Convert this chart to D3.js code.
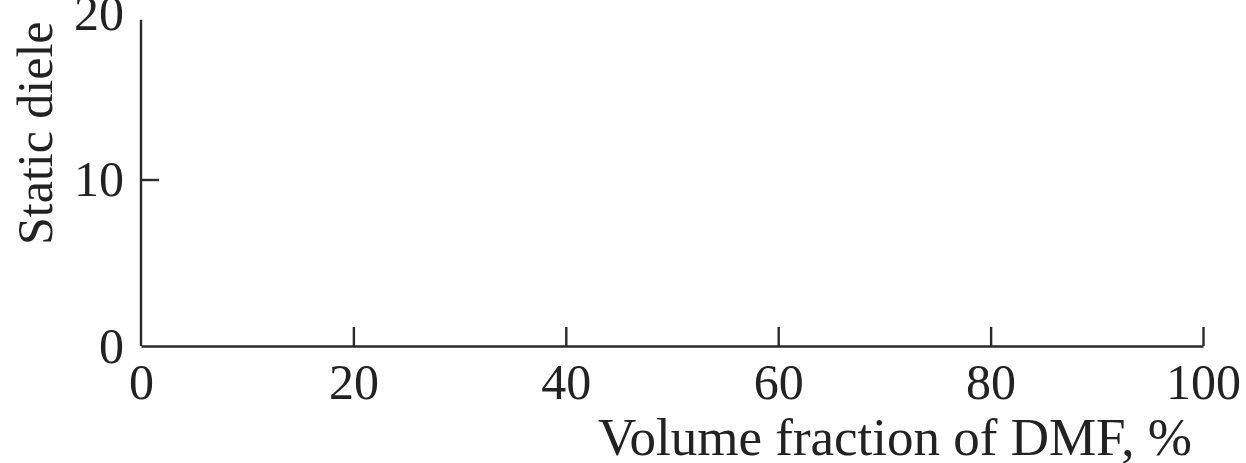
<!DOCTYPE html>
<html>
<head>
<meta charset="utf-8">
<script src="https://cdn.jsdelivr.net/npm/d3@7"></script>
<style>
  html, body { margin: 0; padding: 0; background: #fff; }
  svg { display: block; }
  text { font-family: "Liberation Serif", "Times New Roman", serif; fill: #222; }
</style>
</head>
<body>
<svg id="chart" width="1246" height="463"></svg>
<script>
// Data (the chart region shown contains only axes; no data marks visible)
const xTicks = [0, 20, 40, 60, 80, 100];
const yTicks = [0, 10, 20];
const xLabel = "Volume fraction of DMF, %";
const yLabel = "Static dielectric constant";
const seriesX = [];
const seriesY = [];

const svg = d3.select("#chart");

const x = d3.scaleLinear().domain([0, 100]).range([141, 1203]);
const y = d3.scaleLinear().domain([0, 20]).range([346, 13]);

const axisColor = "#2a2a2a";
const fontSize = 50;

// X axis
const gx = svg.append("g").attr("transform", `translate(0,${y(0)})`)
  .call(d3.axisBottom(x).tickValues(xTicks).tickFormat(d3.format("d"))
    .tickSizeInner(-19).tickSizeOuter(0).tickPadding(17));
gx.select(".domain").attr("stroke", axisColor).attr("stroke-width", 2.4);
gx.selectAll(".tick line").attr("stroke", axisColor).attr("stroke-width", 2.4);
gx.selectAll(".tick").filter(d => d === 0).select("line").remove();
gx.selectAll(".tick text").attr("font-size", fontSize).attr("fill", "#222")
  .attr("font-family", "Liberation Serif, serif");

// Y axis
const gy = svg.append("g").attr("transform", `translate(${x(0)},0)`)
  .call(d3.axisLeft(y).tickValues(yTicks).tickFormat(d3.format("d"))
    .tickSizeInner(-18).tickSizeOuter(0).tickPadding(17));
gy.select(".domain").attr("stroke", axisColor).attr("stroke-width", 2.4)
  .attr("d", `M0,${y(0)}V${y(19.6)}`);
gy.selectAll(".tick line").attr("stroke", axisColor).attr("stroke-width", 2.4);
gy.selectAll(".tick").filter(d => d === 0 || d === 20).select("line").remove();
gy.selectAll(".tick text").attr("font-size", fontSize).attr("fill", "#222")
  .attr("font-family", "Liberation Serif, serif");

// Series (none visible in this crop)
svg.append("g").selectAll("circle").data(seriesX.map((v, i) => [v, seriesY[i]]))
  .join("circle").attr("cx", d => x(d[0])).attr("cy", d => y(d[1])).attr("r", 5);

// Axis titles
svg.append("text")
  .attr("x", 1192).attr("y", 455)
  .attr("text-anchor", "end")
  .attr("font-size", 53)
  .text(xLabel);

// y-axis title, clipped at the top like the reference crop
svg.append("defs").append("clipPath").attr("id", "ylabClip")
  .append("rect").attr("x", 0).attr("y", 21.5).attr("width", 100).attr("height", 300);
svg.append("g").attr("clip-path", "url(#ylabClip)")
  .append("text")
  .attr("transform", `translate(52,245) rotate(-90)`)
  .attr("text-anchor", "start")
  .attr("font-size", 50)
  .text(yLabel);
</script>
</body>
</html>
